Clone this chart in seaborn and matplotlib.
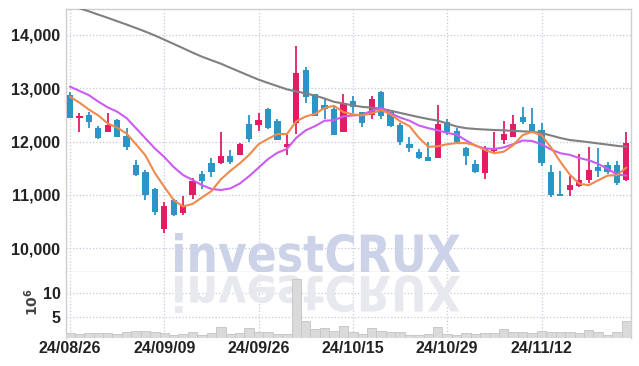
import matplotlib
matplotlib.use('Agg')
import matplotlib.pyplot as plt
import seaborn as sns
import numpy as np
import pandas as pd
from matplotlib.textpath import TextPath
from matplotlib.patches import PathPatch
from matplotlib.font_manager import FontProperties
from matplotlib.transforms import Affine2D

# ---------------- data ----------------
opens = [12870, 12450, 12500, 12250, 12180, 12400, 12100, 11560, 11430, 11110,
         10360, 10900, 10660, 11000, 11390, 11590, 11600, 11730, 11750, 12330,
         12310, 12610, 12380, 11900, 12350, 13340, 12890, 12680, 12610, 12180,
         12760, 12550, 12500, 12930, 12550, 12310, 11950, 11810, 11710, 11700,
         12370, 12200, 11880, 11580, 11400, 11830, 12020, 12090, 12460, 12330,
         12220, 11420, 11010, 11090, 11170, 11280, 11530, 11560, 11560, 11280]
closes = [12450, 12480, 12370, 12070, 12310, 12090, 11900, 11380, 11000, 10680,
          10790, 10630, 10800, 11250, 11260, 11420, 11720, 11610, 11950, 12050,
          12400, 12250, 12030, 11950, 13290, 12840, 12480, 12610, 12130, 12700,
          12650, 12350, 12800, 12470, 12300, 11990, 11880, 11700, 11640, 12330,
          12180, 11990, 11730, 11420, 11870, 11880, 12140, 12330, 12370, 12170,
          11590, 11000, 10980, 11180, 11280, 11470, 11450, 11430, 11220, 11970]
highs = [12920, 12530, 12550, 12290, 12530, 12420, 12250, 11650, 11470, 11130,
         10870, 10930, 10970, 11310, 11450, 11690, 12170, 11840, 11980, 12490,
         12530, 12630, 12430, 12120, 13790, 13390, 12900, 12810, 12670, 12900,
         12860, 12560, 12850, 12950, 12560, 12340, 12080, 11860, 12000, 12690,
         12420, 12260, 11900, 11650, 11920, 12170, 12390, 12500, 12640, 12620,
         12350, 11560, 11450, 11350, 11760, 11900, 11870, 11620, 11640, 12170]
lows = [12440, 12170, 12250, 12050, 12170, 12080, 11850, 11350, 10900, 10620,
        10280, 10600, 10620, 10930, 11100, 11330, 11580, 11570, 11740, 12000,
        12200, 12230, 12030, 11750, 12150, 12730, 12480, 12430, 12120, 12180,
        12530, 12280, 12420, 12430, 12280, 11930, 11810, 11680, 11630, 11690,
        12130, 11950, 11560, 11410, 11300, 11780, 11950, 12080, 12330, 12160,
        11540, 10960, 10970, 10980, 11140, 11230, 11330, 11390, 11180, 11250]
ma_short = [12840, 12730, 12600, 12490, 12340, 12260, 12150, 11950, 11740, 11410,
            11150, 10900, 10780, 10830, 10950, 11070, 11290, 11450, 11590, 11750,
            11950, 12050, 12140, 12140, 12380, 12470, 12520, 12630, 12670, 12550,
            12510, 12490, 12530, 12590, 12510, 12380, 12290, 12070, 11900, 11910,
            11950, 11970, 11970, 11930, 11840, 11780, 11810, 11930, 12120, 12180,
            12120, 11890, 11620, 11380, 11210, 11180, 11270, 11360, 11370, 11510]
ma_mid = [13030, 12950, 12870, 12750, 12640, 12560, 12440, 12250, 12060, 11870,
          11710, 11520, 11370, 11280, 11180, 11110, 11090, 11120, 11210, 11350,
          11510, 11670, 11790, 11860, 12070, 12210, 12290, 12390, 12400, 12470,
          12490, 12500, 12580, 12630, 12530, 12450, 12390, 12300, 12250, 12210,
          12160, 12130, 12020, 11920, 11870, 11860, 11890, 11950, 12020, 12010,
          11950, 11850, 11780, 11750, 11690, 11650, 11580, 11490, 11380, 11360]
ma_long = [14560, 14500, 14443, 14381, 14321, 14257, 14195, 14129, 14062, 13989,
           13910, 13831, 13750, 13668, 13591, 13525, 13460, 13384, 13309, 13234,
           13161, 13099, 13039, 12979, 12940, 12902, 12861, 12807, 12745, 12713,
           12677, 12650, 12635, 12617, 12578, 12537, 12497, 12458, 12422, 12392,
           12338, 12281, 12250, 12235, 12225, 12216, 12210, 12200, 12191, 12182,
           12159, 12113, 12066, 12028, 12009, 11987, 11964, 11942, 11919, 11901]
volumes_m = [1.5, 1.3, 1.55, 1.55, 1.55, 1.35, 1.75, 2.0, 2.0, 1.75,
             1.55, 1.05, 1.35, 1.75, 1.05, 1.55, 2.75, 1.35, 1.55, 2.55,
             1.75, 1.75, 1.35, 1.35, 13.1, 4.0, 2.4, 2.55, 2.05, 2.95,
             1.7, 1.4, 2.55, 1.85, 1.7, 1.7, 1.15, 1.05, 1.3, 2.7,
             1.35, 1.05, 1.5, 1.35, 1.55, 1.55, 2.35, 1.75, 1.75, 1.55,
             2.0, 1.75, 1.75, 1.75, 1.55, 2.1, 1.75, 1.05, 1.65, 4.0]
date_tick_pos = [0, 10, 20, 30, 40, 50]
date_tick_labels = ['24/08/26', '24/09/09', '24/09/26', '24/10/15', '24/10/29', '24/11/12']
price_ticks = [10000, 11000, 12000, 13000, 14000]
vol_ticks = [5, 10]

df = pd.DataFrame({'day': np.arange(len(closes)), 'open': opens, 'close': closes,
                   'high': highs, 'low': lows, 'ma_short': ma_short,
                   'ma_mid': ma_mid, 'ma_long': ma_long, 'vol': volumes_m})

# ---------------- style ----------------
sns.set_theme(style='white')
plt.rcParams['font.family'] = ['Liberation Sans Narrow', 'Liberation Sans', 'DejaVu Sans']
plt.rcParams['font.weight'] = 'bold'

RED = '#e31c63'
BLUE = '#2b95c6'
ORANGE = '#ef8a4c'
PURPLE = '#cc5cef'
GRAY = '#808080'
GRID = '#c3c8dc'
SPINE = '#cfcfcf'
TXT = '#222222'

W, H = 639, 366
fig = plt.figure(figsize=(W / 100, H / 100), dpi=100)
fig.patch.set_facecolor('white')


def rect(l, t, r, b):
    return [l / W, 1 - b / H, (r - l) / W, (b - t) / H]


ax = fig.add_axes(rect(66, 9, 631, 272))
axv = fig.add_axes(rect(66, 272, 631, 338), sharex=ax)

# ---------------- candles ----------------
up = df['close'] >= df['open']
cols = np.where(up, RED, BLUE)
body_lo = np.minimum(df['open'], df['close'])
body_h = np.maximum(np.abs(df['close'] - df['open']), 25)
ax.vlines(df['day'], df['low'], df['high'], colors=cols, lw=1.3, zorder=3)
ax.bar(df['day'], body_h, bottom=body_lo, width=0.66, color=cols, zorder=4, linewidth=0)

# ---------------- moving averages ----------------
sns.lineplot(data=df, x='day', y='ma_long', color=GRAY, lw=1.5, ax=ax, zorder=5)
sns.lineplot(data=df, x='day', y='ma_mid', color=PURPLE, lw=1.5, ax=ax, zorder=6)
sns.lineplot(data=df, x='day', y='ma_short', color=ORANGE, lw=1.5, ax=ax, zorder=7)

# ---------------- volume ----------------
sns.barplot(data=df, x='day', y='vol', native_scale=True, color='#dadada',
            saturation=1, width=1.0, edgecolor='#c8c8c8', linewidth=0.7,
            errorbar=None, ax=axv, zorder=3)

# ---------------- axes formatting ----------------
for a in (ax, axv):
    a.set_facecolor('white')
    a.grid(True, ls=':', color=GRID, lw=0.9)
    a.set_xlabel('')
    a.set_ylabel('')
    a.tick_params(length=0, colors=TXT)
    for s in a.spines.values():
        s.set_color(SPINE)
        s.set_linewidth(1.0)

ax.set_xlim(-0.42, 59.49)
ax.set_ylim(9552, 14486)
ax.set_yticks(price_ticks)
ax.set_yticklabels([f'{v:,}' for v in price_ticks])
ax.set_xticks(date_tick_pos)
ax.tick_params(axis='x', labelbottom=False)
ax.tick_params(axis='y', labelsize=11.5, pad=4)

axv.set_ylim(0.45, 14.55)
axv.set_yticks(vol_ticks)
axv.set_yticklabels([str(v) for v in vol_ticks])
axv.set_xticks(date_tick_pos)
axv.set_xticklabels(date_tick_labels)
axv.tick_params(axis='y', labelsize=11.5, pad=4)
axv.tick_params(axis='x', labelsize=11.5, pad=2)
axv.spines['top'].set_visible(False)
axv.spines['bottom'].set_visible(False)
axv.set_xlim(-0.42, 59.49)

fig.text(32 / W, 1 - 302 / H, r'$10^{6}$', rotation=90, ha='center', va='center',
         fontsize=10, color='#444444', family='DejaVu Sans', fontweight='normal')

# ---------------- watermark ----------------
tp = TextPath((0, 0), 'investCRUX', size=1,
              prop=FontProperties(family=['Liberation Sans Narrow', 'DejaVu Sans'], weight='bold'))
ext = tp.get_extents()
sx = 285 / ext.width
sy = 39 / ext.y1
t_main = (Affine2D().translate(-ext.x0, 0).scale(sx / W, sy / H)
          .translate(175 / W, (H - 272) / H) + fig.transFigure)
t_refl = (Affine2D().translate(-ext.x0, 0).scale(sx / W, -37 / ext.y1 / H)
          .translate(175 / W, (H - 276) / H) + fig.transFigure)
ax.add_patch(PathPatch(tp, transform=t_main, facecolor='#ccd2e7', lw=0,
                       zorder=1, clip_on=False))
axv.add_patch(PathPatch(tp, transform=t_refl, facecolor='#e8e9ef', lw=0,
                        zorder=1, clip_on=False))

fig.savefig('out.png', dpi=100)
